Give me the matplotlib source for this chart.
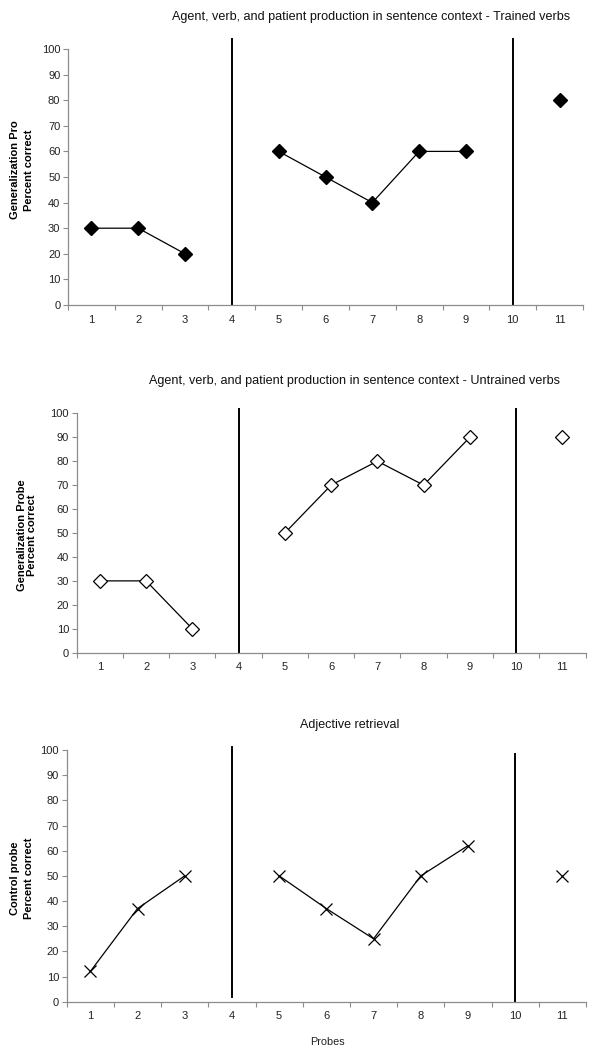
import numpy as np
import matplotlib
matplotlib.use("Agg")
import matplotlib.pyplot as plt

plt.rcParams['font.family'] = ['Liberation Sans', 'DejaVu Sans']

probes = [1, 2, 3, 4, 5, 6, 7, 8, 9, 10, 11]
trained = [30, 30, 20, None, 60, 50, 40, 60, 60, None, 80]
untrained = [30, 30, 10, None, 50, 70, 80, 70, 90, None, 90]
adjective = [12, 37, 50, None, 50, 37, 25, 50, 62, None, 50]
phase_lines = [4, 10]
yticks = [0, 10, 20, 30, 40, 50, 60, 70, 80, 90, 100]

titles = [
    "Agent, verb, and patient production in sentence context - Trained verbs",
    "Agent, verb, and patient production in sentence context - Untrained verbs",
    "Adjective retrieval",
]
ylabels = [
    "Generalization Pro\nPercent correct",
    "Generalization Probe\nPercent correct",
    "Control probe\nPercent correct",
]
xlabel = "Probes"

W, H = 604, 1050
fig = plt.figure(figsize=(W / 100, H / 100), dpi=100)


def px_axes(l, r, t, b):
    return [l / W, 1 - b / H, (r - l) / W, (b - t) / H]


axes_px = [
    (68, 583, 49, 305),
    (76.7, 585.5, 413.3, 652.7),
    (66.7, 586, 750, 1001.7),
]
title_pos = [(371, 17), (355, 381), (350, 725)]
title_size = [9.1, 9.1, 9.0]
ylabel_px = [(21.7, 170), (27.3, 535.5), (21.7, 878.5)]
ylabel_ls = [1.5, 1.0, 1.5]
line_extent = [[(0, 104), (0, 104)], [(0, 101.8), (0, 101.8)], [(2, 101.3), (0, 98.5)]]

series = [trained, untrained, adjective]
styles = [
    dict(marker='D', ms=7, mfc='black', mec='black'),
    dict(marker='D', ms=7, mfc='white', mec='black', mew=0.9),
    dict(marker='x', ms=8.5, mfc='none', mec='black', mew=0.9),
]

gray = '#8c8c8c'
for i in range(3):
    ax = fig.add_axes(px_axes(*axes_px[i]))
    y = np.array([np.nan if v is None else v for v in series[i]], dtype=float)
    ax.plot(probes, y, color='black', lw=0.9, **styles[i], zorder=3, clip_on=False)
    for xv, (y0, y1) in zip(phase_lines, line_extent[i]):
        ax.plot([xv, xv], [y0, y1], color='black', lw=1.4, clip_on=False, zorder=2)
    ax.set_xlim(0.5, 11.5)
    ax.set_ylim(0, 100)
    ax.set_yticks(yticks)
    ax.set_xticks(probes)
    ax.set_xticks(np.arange(0.5, 12, 1), minor=True)
    ax.tick_params(axis='x', which='major', length=0, pad=7, labelsize=8, colors='#222222')
    ax.tick_params(axis='x', which='minor', length=3.5, direction='out', color=gray, width=0.8)
    ax.tick_params(axis='y', which='major', length=3.5, direction='out', color=gray, width=0.8,
                   labelsize=8, labelcolor='#222222', pad=2)
    for s in ['top', 'right']:
        ax.spines[s].set_visible(False)
    for s in ['left', 'bottom']:
        ax.spines[s].set_color(gray)
        ax.spines[s].set_linewidth(0.9)
    lx, ly = ylabel_px[i]
    fig.text(lx / W, 1 - ly / H, ylabels[i], rotation=90, ha='center', va='center',
             fontsize=8, fontweight='bold', linespacing=ylabel_ls[i], multialignment='center')
    tx, ty = title_pos[i]
    fig.text(tx / W, 1 - ty / H, titles[i], ha='center', va='center', fontsize=title_size[i],
             color='#111111')
    if i == 2:
        ax.set_xlabel(xlabel, fontsize=7.8, color='#222222')
        ax.xaxis.set_label_coords(0.5015, -0.14)

fig.savefig("out.png", dpi=100)
